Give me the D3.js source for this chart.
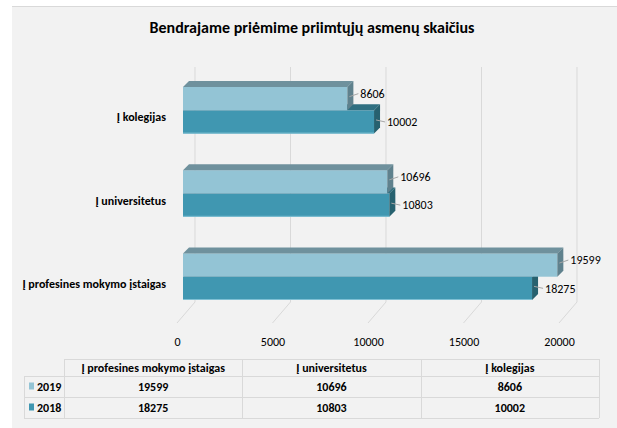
<!DOCTYPE html>
<meta charset="utf-8">
<head>
    <title>Bendrajame priėmime priimtųjų asmenų skaičius</title>
    <script src="https://d3js.org/d3.v7.min.js"></script>
</head>
<style>
    body {
        margin: 0;
        background-color: #ffffff;
    }
    svg text {
        font-family: Carlito, "Liberation Sans Narrow", "Liberation Sans", sans-serif;
        fill: #000;
    }
    .title {
        font-size: 16px;
        font-weight: bold;
    }
    .grid line, .grid path {
        stroke: #d9d9d9;
        stroke-width: 1px;
        fill: none;
    }
    .cat {
        font-size: 12px;
        font-weight: bold;
    }
    .val {
        font-size: 12px;
    }
    .leader {
        stroke: #a6a6a6;
        stroke-width: 1px;
    }
    .x.axis text {
        font-size: 12px;
    }
    .x.axis path {
        display: none;
    }
    .tbl line {
        stroke: #d9d9d9;
        stroke-width: 1px;
        shape-rendering: crispEdges;
    }
    .tbl text {
        font-size: 12px;
        font-weight: bold;
    }
</style>
<body>
<svg width="617" height="428"></svg>
<script>
    // chart data
    var categories = ["Į profesines mokymo įstaigas", "Į universitetus", "Į kolegijas"];
    var years = ["2019", "2018"];
    var values2019 = [19599, 10696, 8606];
    var values2018 = [18275, 10803, 10002];
    var xTicks = [0, 5000, 10000, 15000, 20000];

    var colors = {
        "2019": {front: "#93c4d5", top: "#6f919d", side: "#5f818d"},
        "2018": {front: "#4097b1", top: "#2f6f81", side: "#27616f"}
    };

    var rows = [];
    categories.forEach(function(c, i) {
        rows.push({cat: c, year: "2019", value: values2019[i]});
        rows.push({cat: c, year: "2018", value: values2018[i]});
    });

    var svg = d3.select("svg");
    var depth = 6;      // bar depth (3d offset)

    // panel background
    svg.append("rect")
        .attr("x", 12).attr("y", 6)
        .attr("width", 605).attr("height", 422)
        .attr("fill", "#f2f2f2");
    svg.append("line")
        .attr("x1", 12).attr("x2", 617)
        .attr("y1", 6.5).attr("y2", 6.5)
        .attr("stroke", "#d9d9d9");

    svg.append("text")
        .attr("class", "title")
        .attr("x", 312)
        .attr("y", 33)
        .attr("text-anchor", "middle")
        .text("Bendrajame priėmime priimtųjų asmenų skaičius");

    // front plane, back wall and floor edge scales
    var x = d3.scaleLinear().domain([0, 20000]).range([183, 565]);
    var xBack = function(v) { return x(v) + 12; };
    var xFloor = function(v) { return x(v) - 6; };

    var y = d3.scaleBand()
        .domain(categories.slice().reverse())
        .range([87, 300])
        .paddingInner(0.44);
    var yInner = d3.scaleBand()
        .domain(years)
        .range([0, y.bandwidth()]);

    // gridlines on back wall + floor
    var grid = svg.append("g").attr("class", "grid");
    grid.selectAll("path")
        .data(xTicks)
        .enter().append("path")
        .attr("d", function(d) {
            return "M" + xBack(d) + ",67 L" + xBack(d) + ",302 L" + xFloor(d) + ",323";
        });

    svg.append("g")
        .attr("class", "x axis")
        .attr("transform", "translate(0,334)")
        .call(d3.axisBottom(d3.scaleLinear().domain(x.domain()).range([xFloor(0), xFloor(20000)]))
            .tickValues(xTicks).tickSize(0).tickFormat(d3.format("d")))
        .call(function(g) { g.selectAll("text").attr("font-family", null).attr("font-size", null); });

    // 3d bars: 2018 first so 2019 sits on top
    var barData = rows.filter(function(d) { return d.year == "2018"; })
        .concat(rows.filter(function(d) { return d.year == "2019"; }));

    var bars = svg.append("g").selectAll("g.bar")
        .data(barData)
        .enter().append("g")
        .attr("class", "bar");

    function by(d) { return y(d.cat) + yInner(d.year); }
    var bh = yInner.bandwidth();

    bars.append("rect")
        .attr("x", x(0))
        .attr("y", by)
        .attr("width", function(d) { return x(d.value) - x(0); })
        .attr("height", bh)
        .attr("fill", function(d) { return colors[d.year].front; });

    bars.append("path")
        .attr("fill", function(d) { return colors[d.year].top; })
        .attr("d", function(d) {
            var x0 = x(0), x1 = x(d.value), t = by(d);
            return "M" + x0 + "," + t + "L" + (x0 + depth) + "," + (t - depth) +
                "L" + (x1 + depth) + "," + (t - depth) + "L" + x1 + "," + t + "Z";
        });

    bars.append("path")
        .attr("fill", function(d) { return colors[d.year].side; })
        .attr("d", function(d) {
            var x1 = x(d.value), t = by(d);
            return "M" + x1 + "," + t + "L" + (x1 + depth) + "," + (t - depth) +
                "L" + (x1 + depth) + "," + (t + bh - depth) + "L" + x1 + "," + (t + bh) + "Z";
        });

    // light edge under the 2018 bars
    bars.filter(function(d) { return d.year == "2018"; })
        .append("line")
        .attr("x1", x(0)).attr("x2", function(d) { return x(d.value); })
        .attr("y1", function(d) { return by(d) + bh - 0.5; })
        .attr("y2", function(d) { return by(d) + bh - 0.5; })
        .attr("stroke", "#7fc0d4");

    // value labels with short leader lines
    function ly(d) { return by(d) + bh / 2 - (d.year == "2019" ? 5 : 0); }
    bars.append("line")
        .attr("class", "leader")
        .attr("x1", function(d) { return x(d.value) + 2; })
        .attr("y1", function(d) { return by(d) + bh / 2 - 2; })
        .attr("x2", function(d) { return x(d.value) + depth + 5; })
        .attr("y2", ly);

    bars.append("text")
        .attr("class", "val")
        .attr("x", function(d) { return x(d.value) + depth + 7; })
        .attr("y", ly)
        .attr("dy", "0.35em")
        .text(function(d) { return d.value; });

    // category labels
    svg.append("g").selectAll("text")
        .data(categories)
        .enter().append("text")
        .attr("class", "cat")
        .attr("x", 166)
        .attr("y", function(d) { return y(d) + y.bandwidth() / 2 + 7; })
        .attr("dy", "0.35em")
        .attr("text-anchor", "end")
        .text(function(d) { return d; });

    // data table
    var tbl = svg.append("g").attr("class", "tbl");
    var col = d3.scaleBand().domain(categories).range([64, 599]);
    var rowTop = [359, 376, 397, 418];
    var left = 24;

    tbl.selectAll("line.h")
        .data(rowTop)
        .enter().append("line")
        .attr("x1", function(d, i) { return i == 0 ? col.range()[0] : left; })
        .attr("x2", col.range()[1])
        .attr("y1", function(d) { return d + 0.5; })
        .attr("y2", function(d) { return d + 0.5; });

    var vx = [left].concat(categories.map(function(c) { return col(c); })).concat([col.range()[1]]);
    tbl.selectAll("line.v")
        .data(vx)
        .enter().append("line")
        .attr("x1", function(d) { return d + 0.5; })
        .attr("x2", function(d) { return d + 0.5; })
        .attr("y1", function(d, i) { return i == 0 ? rowTop[1] : rowTop[0]; })
        .attr("y2", rowTop[3]);

    tbl.selectAll("text.head")
        .data(categories)
        .enter().append("text")
        .attr("x", function(d) { return col(d) + col.bandwidth() / 2; })
        .attr("y", (rowTop[0] + rowTop[1]) / 2)
        .attr("dy", "0.35em")
        .attr("text-anchor", "middle")
        .text(function(d) { return d; });

    [values2019, values2018].forEach(function(vals, r) {
        var cy = (rowTop[r + 1] + rowTop[r + 2]) / 2;
        tbl.append("rect")
            .attr("x", 29).attr("y", cy - 4)
            .attr("width", 5).attr("height", 7)
            .attr("fill", colors[years[r]].front);
        tbl.append("text")
            .attr("x", 37).attr("y", cy)
            .attr("dy", "0.35em")
            .text(years[r]);
        tbl.selectAll(null)
            .data(vals)
            .enter().append("text")
            .attr("x", function(d, i) { return col(categories[i]) + col.bandwidth() / 2; })
            .attr("y", cy)
            .attr("dy", "0.35em")
            .attr("text-anchor", "middle")
            .text(function(d) { return d; });
    });
</script>
</body>
